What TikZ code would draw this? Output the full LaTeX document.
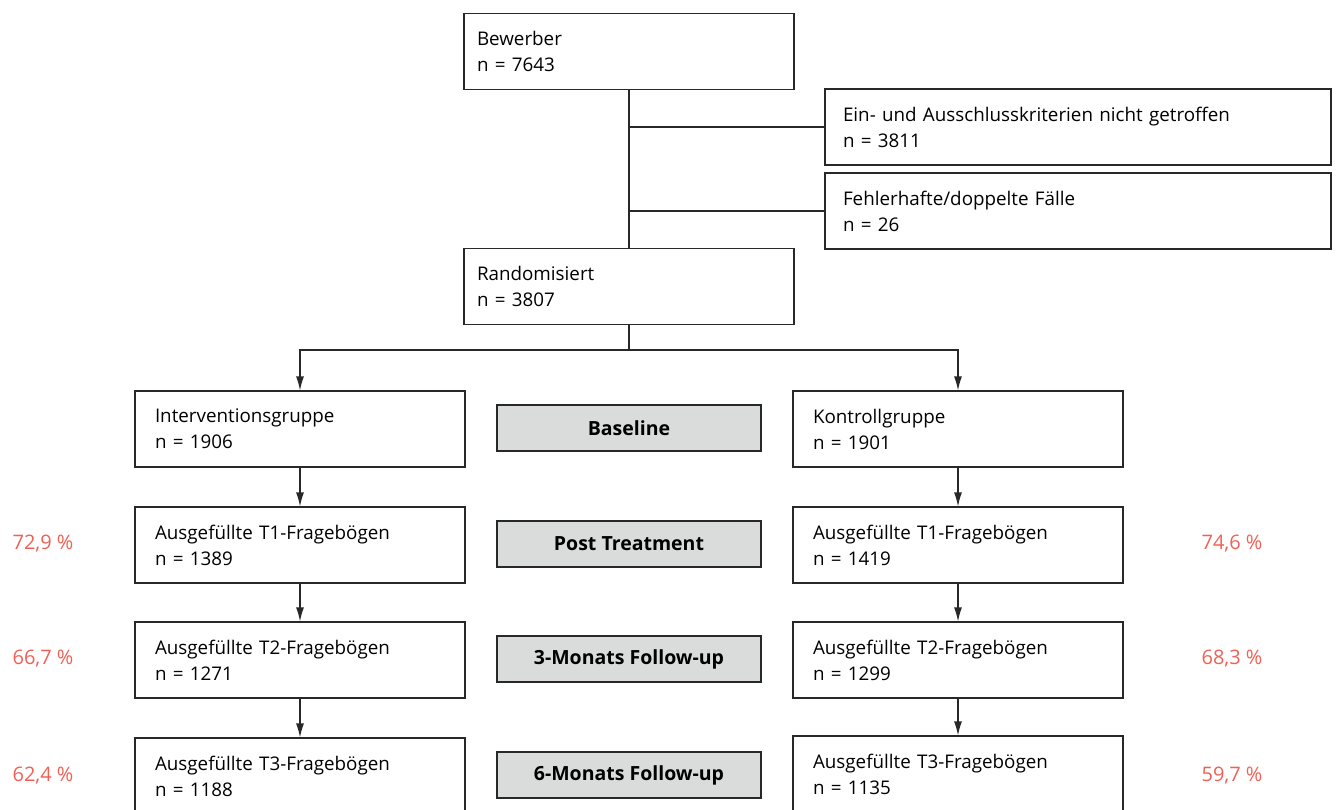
\documentclass[tikz,border=0pt]{standalone}
\usepackage{fontspec}
\setmainfont{Open Sans}
\usepackage{tikz}
\usepackage{xcolor}
\usetikzlibrary{shapes,arrows,arrows.meta,positioning,calc}
\definecolor{boxline}{RGB}{40,40,40}
\definecolor{phasegray}{RGB}{218,220,219}
\definecolor{ratered}{RGB}{240,96,86}

\tikzset{
    flowbox/.style={draw=boxline,line width=1.2pt,rectangle,minimum width=330pt,minimum height=76pt,
        text width=290pt,inner xsep=20pt,align=left,font=\fontsize{18.8}{26}\selectfont},
    widebox/.style={flowbox,minimum width=506pt,text width=470pt,inner xsep=18pt},
    topbox/.style={flowbox,text width=304pt,inner xsep=13pt},
    phasebox/.style={draw=boxline,line width=1.2pt,fill=phasegray,rectangle,minimum width=264pt,
        minimum height=46pt,align=center,font=\fontsize{19.5}{20}\selectfont\bfseries},
    ratelabel/.style={text=ratered,font=\fontsize{20}{22}\selectfont},
    link/.style={draw=boxline,line width=1.2pt},
    flowarrow/.style={link,-{Latex[length=14pt,width=8pt]}}
}

\begin{document}
\begin{tikzpicture}[x=1pt,y=-1pt]
    \useasboundingbox (0,0) rectangle (1336,810);
    \clip (0,0) rectangle (1336,810);

    % Enrolment
    \node[topbox] (bewerber) at (629,51.5) {Bewerber\\n = 7643};
    \node[widebox] (kriterien) at (1078,127) {Ein- und Ausschlusskriterien nicht getroffen\\n = 3811};
    \node[widebox] (fehler) at (1078,211) {Fehlerhafte/doppelte F\"alle\\n = 26};
    \node[topbox] (random) at (629,286.5) {Randomisiert\\n = 3807};

    \draw[link] (bewerber) -- (random);
    \draw[link] (bewerber.south |- kriterien.west) -- (kriterien.west);
    \draw[link] (bewerber.south |- fehler.west) -- (fehler.west);

    % Groups
    \node[flowbox] (ig0) at (300,429) {Interventionsgruppe\\n = 1906};
    \node[flowbox] (kg0) at (958,429) {Kontrollgruppe\\n = 1901};
    \node[flowbox] (ig1) at (300,545) {Ausgef\"ullte T1-Frageb\"ogen\\n = 1389};
    \node[flowbox] (kg1) at (958,545) {Ausgef\"ullte T1-Frageb\"ogen\\n = 1419};
    \node[flowbox] (ig2) at (300,660) {Ausgef\"ullte T2-Frageb\"ogen\\n = 1271};
    \node[flowbox] (kg2) at (958,660) {Ausgef\"ullte T2-Frageb\"ogen\\n = 1299};
    \node[flowbox] (ig3) at (300,776) {Ausgef\"ullte T3-Frageb\"ogen\\n = 1188};
    \node[flowbox] (kg3) at (958,774) {Ausgef\"ullte T3-Frageb\"ogen\\n = 1135};

    % Phases
    \node[phasebox] (baseline) at (629,428) {Baseline};
    \node[phasebox] (post) at (629,544) {Post Treatment};
    \node[phasebox] (fu3) at (629,659) {3-Monats Follow-up};
    \node[phasebox] (fu6) at (629,775) {6-Monats Follow-up};

    % Rates
    \node[ratelabel] (rate1l) at (43,544) {72,9 \%};
    \node[ratelabel] (rate2l) at (43,659) {66,7 \%};
    \node[ratelabel] (rate3l) at (43,776) {62,4 \%};
    \node[ratelabel] (rate1r) at (1232,544) {74,6 \%};
    \node[ratelabel] (rate2r) at (1232,659) {68,3 \%};
    \node[ratelabel] (rate3r) at (1232,776) {59,7 \%};

    % Arrows
    \coordinate (split) at (629,350);
    \draw[link] (random) -- (split);
    \draw[flowarrow] (split) -| (ig0.north);
    \draw[flowarrow] (split) -| (kg0.north);
    \draw[flowarrow] (ig0) -- (ig1);
    \draw[flowarrow] (ig1) -- (ig2);
    \draw[flowarrow] (ig2) -- (ig3);
    \draw[flowarrow] (kg0) -- (kg1);
    \draw[flowarrow] (kg1) -- (kg2);
    \draw[flowarrow] (kg2) -- (kg3.north);
\end{tikzpicture}
\end{document}
